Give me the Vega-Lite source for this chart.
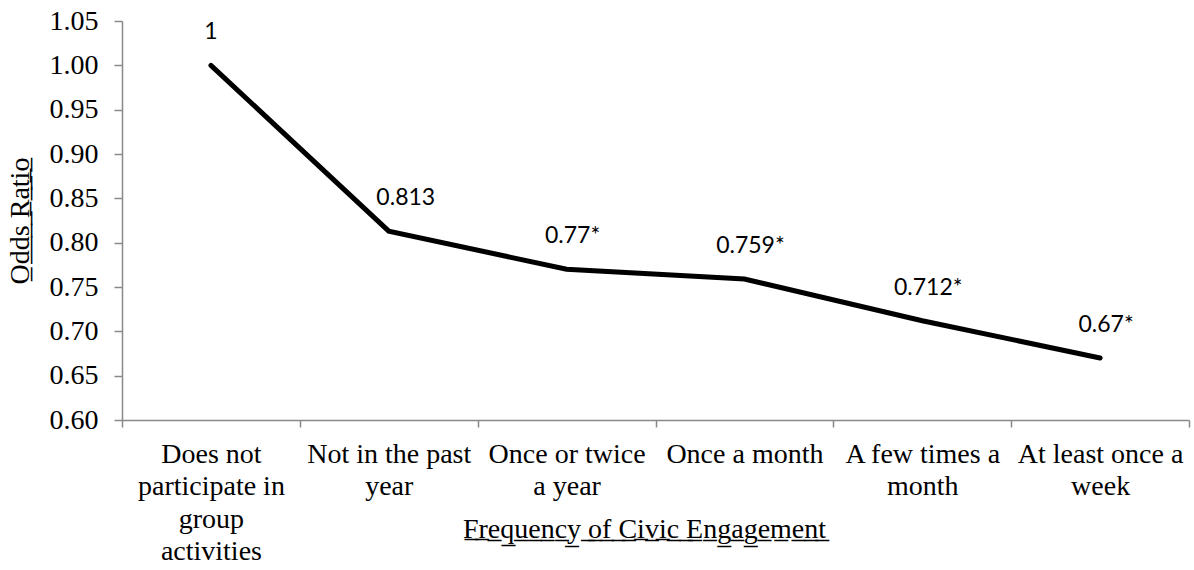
{
  "$schema": "https://vega.github.io/schema/vega-lite/v6.json",
  "width": 1067,
  "height": 399,
  "autosize": {"type": "none"},
  "padding": {"left": 122, "top": 21, "right": 5, "bottom": 150},
  "background": "white",
  "config": {
    "view": {"stroke": null},
    "axis": {
      "domainColor": "#898989",
      "domainWidth": 1.5,
      "tickColor": "#898989",
      "tickWidth": 1.5,
      "tickSize": 8,
      "grid": false,
      "labelFont": "'Liberation Serif', 'Times New Roman', serif",
      "labelFontSize": 28,
      "labelColor": "black",
      "titleFont": "'Liberation Serif', 'Times New Roman', serif",
      "titleFontSize": 28,
      "titleFontWeight": "normal",
      "titleColor": "black"
    }
  },
  "data": {
    "values": [
      {"category": "Does not participate in group activities", "odds": 1, "label": "1"},
      {"category": "Not in the past year", "odds": 0.813, "label": "0.813"},
      {"category": "Once or twice a year", "odds": 0.77, "label": "0.77*"},
      {"category": "Once a month", "odds": 0.759, "label": "0.759*"},
      {"category": "A few times a month", "odds": 0.712, "label": "0.712*"},
      {"category": "At least once a week", "odds": 0.67, "label": "0.67*"}
    ]
  },
  "encoding": {
    "x": {
      "field": "category",
      "type": "nominal",
      "sort": null,
      "scale": {"type": "band", "paddingInner": 0, "paddingOuter": 0},
      "axis": {
        "title": "F\u0332r\u0332e\u0332q\u0332u\u0332e\u0332n\u0332c\u0332y\u0332 \u0332o\u0332f\u0332 \u0332C\u0332i\u0332v\u0332i\u0332c\u0332 \u0332E\u0332n\u0332g\u0332a\u0332g\u0332e\u0332m\u0332e\u0332n\u0332t\u0332",
        "labelAngle": 0,
        "tickBand": "extent",
        "tickSize": 7,
        "labelPadding": 13,
        "labelLineHeight": 32.5,
        "labelLimit": 400,
        "labelOverlap": false,
        "labelExpr": "datum.value == 'Does not participate in group activities' ? ['Does not', 'participate in', 'group', 'activities'] : datum.value == 'Not in the past year' ? ['Not in the past', 'year'] : datum.value == 'Once or twice a year' ? ['Once or twice', 'a year'] : datum.value == 'A few times a month' ? ['A few times a', 'month'] : datum.value == 'At least once a week' ? ['At least once a', 'week'] : datum.value",
        "titleY": 117,
        "titleX": 522,
        "titleBaseline": "alphabetic"
      }
    },
    "y": {
      "field": "odds",
      "type": "quantitative",
      "scale": {"domain": [0.6, 1.05], "nice": false, "zero": false},
      "axis": {
        "title": "O\u0332d\u0332d\u0332s\u0332 \u0332R\u0332a\u0332t\u0332i\u0332o\u0332",
        "values": [0.6, 0.65, 0.7, 0.75, 0.8, 0.85, 0.9, 0.95, 1.0, 1.05],
        "format": ".2f",
        "labelPadding": 16,
        "titlePadding": 15
      }
    }
  },
  "layer": [
    {
      "mark": {"type": "line", "color": "black", "strokeWidth": 5, "strokeCap": "round"}
    },
    {
      "transform": [{"filter": "datum.odds == 1"}],
      "mark": {"type": "text", "font": "Lato", "fontSize": 23, "color": "black", "baseline": "alphabetic", "dy": -26, "align": "center"},
      "encoding": {"text": {"field": "label"}}
    },
    {
      "transform": [{"filter": "datum.label == '0.813'"}],
      "mark": {"type": "text", "font": "Lato", "fontSize": 23, "color": "black", "baseline": "alphabetic", "dy": -26, "dx": 17, "align": "center"},
      "encoding": {"text": {"field": "label"}}
    },
    {
      "transform": [{"filter": "datum.odds < 0.8"}],
      "mark": {"type": "text", "font": "Lato", "fontSize": 23, "color": "black", "baseline": "alphabetic", "dy": -26, "dx": 6, "align": "center"},
      "encoding": {"text": {"field": "label"}}
    }
  ]
}
